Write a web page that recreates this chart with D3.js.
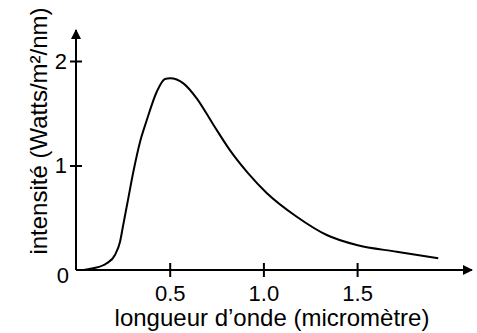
<!DOCTYPE html>
<html>
<head>
<meta charset="utf-8">
<script src="https://cdn.jsdelivr.net/npm/d3@7"></script>
<style>
  body { margin: 0; background: #fff; }
  text { font-family: Arial, "Liberation Sans", sans-serif; fill: #000; }
</style>
</head>
<body>
<svg id="chart" width="477" height="333"></svg>
<script>
// spectre : longueur d'onde (micromètre) -> intensité (W/m²/nm)
const wavelength = [0, 0.04, 0.092, 0.164, 0.208, 0.235, 0.252, 0.279, 0.306, 0.342, 0.377, 0.431, 0.475, 0.502, 0.573, 0.644, 0.733, 0.822, 0.919, 1.016, 1.178, 1.338, 1.498, 1.711, 1.933];
const intensity  = [0, 0.001, 0.016, 0.064, 0.144, 0.271, 0.431, 0.686, 0.94, 1.228, 1.43, 1.706, 1.828, 1.834, 1.786, 1.643, 1.39, 1.145, 0.925, 0.74, 0.51, 0.335, 0.239, 0.175, 0.112];
const xTicks = [0.5, 1.0, 1.5];
const yTicks = [0, 1, 2];

const svg = d3.select("#chart");
const x0 = 76, y0 = 270;

const x = d3.scaleLinear().domain([0, 1]).range([x0, x0 + 187.4]);
const y = d3.scaleLinear().domain([0, 1]).range([y0, y0 - 104.5]);

// arrowheads
const defs = svg.append("defs");
defs.append("marker")
    .attr("id", "arrow")
    .attr("viewBox", "0 0 10 10")
    .attr("refX", 9).attr("refY", 5)
    .attr("markerWidth", 5).attr("markerHeight", 5)
    .attr("orient", "auto")
  .append("path")
    .attr("d", "M0,0 L10,5 L0,10 z")
    .attr("fill", "#000");

// axes lines
svg.append("line")
    .attr("x1", x0).attr("y1", y0).attr("x2", 472).attr("y2", y0)
    .attr("stroke", "#000").attr("stroke-width", 2)
    .attr("marker-end", "url(#arrow)");
svg.append("line")
    .attr("x1", x0).attr("y1", y0).attr("x2", x0).attr("y2", 30)
    .attr("stroke", "#000").attr("stroke-width", 2)
    .attr("marker-end", "url(#arrow)");

// x axis ticks
const gx = svg.append("g")
    .attr("transform", "translate(0," + y0 + ")")
    .call(d3.axisBottom(x).tickValues(xTicks).tickFormat(d3.format(".1f")).tickSize(7).tickPadding(8));
gx.select(".domain").remove();
gx.selectAll(".tick line").attr("y1", -7).attr("y2", 7).attr("stroke-width", 2);
gx.selectAll(".tick text").style("font-size", "22px").attr("font-family", null);

// y axis ticks
const gy = svg.append("g")
    .attr("transform", "translate(" + x0 + ",0)")
    .call(d3.axisLeft(y).tickValues(yTicks).tickFormat(d3.format("d")).tickSize(6).tickPadding(3));
gy.select(".domain").remove();
gy.selectAll(".tick line").attr("x1", -6).attr("x2", 6).attr("stroke-width", 2);
gy.selectAll(".tick text").style("font-size", "22px").attr("font-family", null);
gy.selectAll(".tick").filter(d => d === 0).select("line").remove();
gy.selectAll(".tick").filter(d => d === 0).select("text").attr("dy", "0.55em").attr("x", -7);

// curve
const pts = wavelength.map((w, i) => [w, intensity[i]]);
const line = d3.line()
    .x(d => x(d[0]))
    .y(d => y(d[1]))
    .curve(d3.curveMonotoneX);
svg.append("path")
    .datum(pts)
    .attr("d", line)
    .attr("fill", "none")
    .attr("stroke", "#000")
    .attr("stroke-width", 2);

// axis titles
svg.append("text")
    .attr("x", 272).attr("y", 326)
    .attr("text-anchor", "middle")
    .style("font-size", "24px")
    .text("longueur d\u2019onde (micromètre)");
svg.append("text")
    .attr("transform", "translate(47,131) rotate(-90)")
    .attr("text-anchor", "middle")
    .style("font-size", "24px")
    .text("intensité (Watts/m²/nm)");
</script>
</body>
</html>
